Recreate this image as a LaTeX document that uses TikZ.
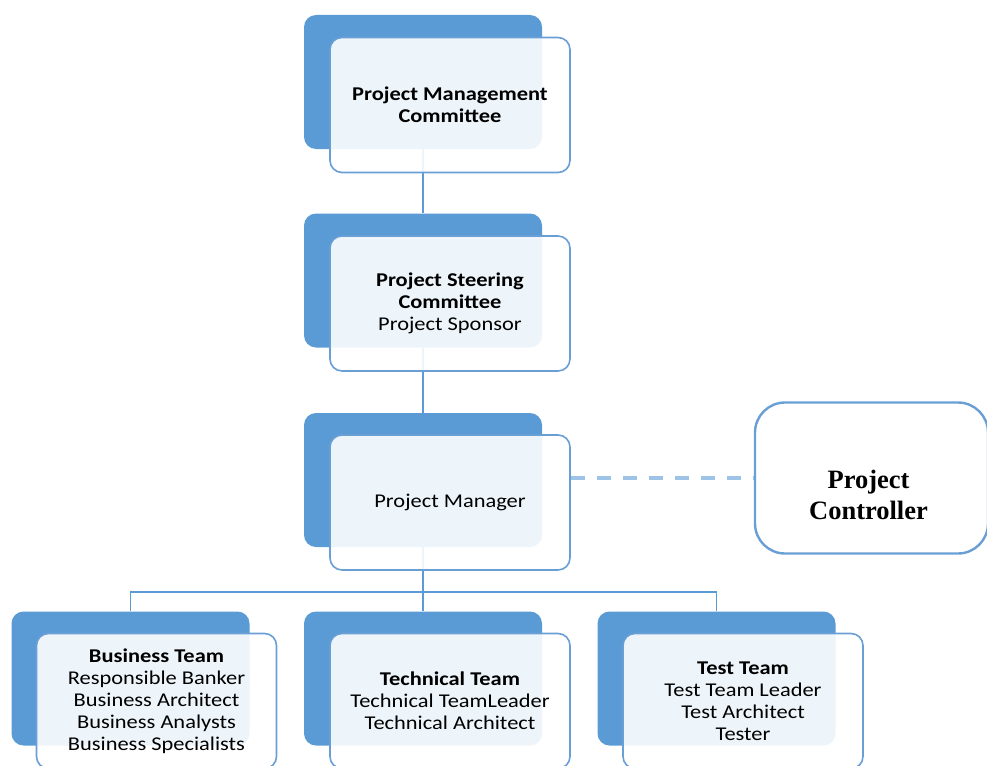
\documentclass[tikz,border=0pt]{standalone}
\usepackage{fontspec}
\setmainfont{Carlito}[FakeStretch=1.15]
\newfontfamily\serifbold{Liberation Serif}
\usetikzlibrary{positioning}
\definecolor{accent}{HTML}{5B9BD5}
\definecolor{edgeblue}{HTML}{6A9FD6}
\definecolor{dashblue}{HTML}{9DC3E6}
\tikzset{
  backbox/.style={fill=accent, draw=none, rounded corners=12pt,
    minimum width=238pt, minimum height=134pt, inner sep=0pt},
  frontbox/.style={fill=white, fill opacity=0.9, text opacity=1,
    draw=edgeblue, line width=1.6pt, rounded corners=12pt,
    minimum width=240pt, minimum height=135pt, inner sep=0pt,
    align=center, font=\fontsize{19.5}{22}\selectfont},
  link/.style={draw=accent, line width=1.6pt},
  dashlink/.style={draw=dashblue, line width=4.5pt, dash pattern=on 14pt off 12pt},
  ctrlbox/.style={draw=edgeblue, line width=2.4pt, rounded corners=30pt, fill=white,
    minimum width=233pt, minimum height=151pt},
  ctrltext/.style={align=center, inner sep=0pt,
    font=\serifbold\bfseries\fontsize{26.5}{31}\selectfont}
}
\begin{document}
\begin{tikzpicture}[x=1pt, y=-1pt]
  \useasboundingbox (0,0) rectangle (987,765);
  \clip (0,0) rectangle (987,765);

  % dark back plates
  \node[backbox] (b1) at (423,82) {};
  \node[backbox] (b2) at (423,280.5) {};
  \node[backbox] (b3) at (423,480) {};
  \node[backbox] (b4) at (130.5,678.5) {};
  \node[backbox] (b5) at (423,678.5) {};
  \node[backbox] (b6) at (716.5,678.5) {};

  % hierarchy lines
  \coordinate (bus) at (423,592);
  \draw[link] (b1.south) -- (b2.north);
  \draw[link] (b2.south) -- (b3.north);
  \draw[link] (b3.south) -- (b5.north);
  \draw[link] (b4.north) -- (b4.north |- bus) -- (b6.north |- bus) -- (b6.north);

  % translucent front cards
  \node[frontbox] (f1) at (450,105) {\textbf{Project Management}\\\textbf{Committee}};
  \node[frontbox] (f2) at (450,303.5) {\textbf{Project Steering}\\\textbf{Committee}\\Project Sponsor};
  \node[frontbox] (f3) at (450,502.5) {Project Manager};
  \node[frontbox] (f4) at (156.5,701) {\textbf{Business Team}\\Responsible Banker\\Business Architect\\Business Analysts\\Business Specialists};
  \node[frontbox] (f5) at (450,701) {\textbf{Technical Team}\\Technical TeamLeader\\Technical Architect};
  \node[frontbox] (f6) at (743,701) {\textbf{Test Team}\\Test Team Leader\\Test Architect\\Tester};

  % controller
  \node[ctrlbox] (ctrl) at (871.5,478) {};
  \node[ctrltext] (ctrllabel) at ([xshift=-3pt,yshift=-17pt]ctrl.center) {Project\\Controller};
  \draw[dashlink] (f3.east |- ctrl.west) -- (ctrl.west);
\end{tikzpicture}
\end{document}
